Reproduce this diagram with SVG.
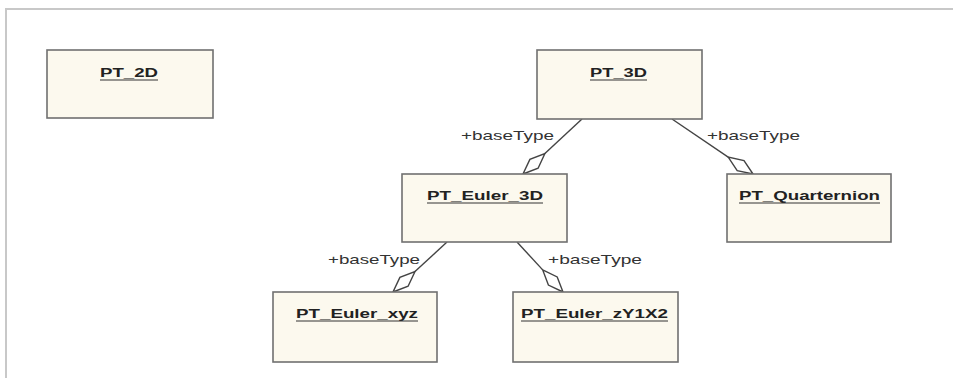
<svg xmlns="http://www.w3.org/2000/svg" width="953" height="378" viewBox="0 0 953 378">
<style>
.box{fill:#fcf9ee;stroke:#707070;stroke-width:1.6}
.title{font-family:"Liberation Sans",Arial,sans-serif;font-weight:bold;font-size:12px;fill:#222;text-anchor:middle}
.ul{stroke:#333;stroke-width:1}
.edge{stroke:#444;stroke-width:1.4;fill:none}
.dia{fill:#ffffff;stroke:#444;stroke-width:1.4}
.lbl{font-family:"Liberation Sans",Arial,sans-serif;font-size:13px;fill:#333}
.frame{stroke:#c8c8c8;stroke-width:2;fill:none}
</style>
<rect x="0" y="0" width="953" height="378" fill="#ffffff"/>
<path class="frame" d="M6,378 V9 H953"/>
<g id="connectors">
  <line class="edge" x1="582" y1="119" x2="544.9" y2="153.6"/>
  <polygon class="dia" points="523,174 538.1,168.2 544.9,153.6 529.9,159.4"/>
  <text class="lbl" x="461" y="140" textLength="93" lengthAdjust="spacingAndGlyphs">+baseType</text>
  <line class="edge" x1="672" y1="119" x2="728.2" y2="157.1"/>
  <polygon class="dia" points="753,174 744.0,160.6 728.2,157.1 737.2,170.6"/>
  <text class="lbl" x="707" y="140" textLength="93" lengthAdjust="spacingAndGlyphs">+baseType</text>
  <line class="edge" x1="447" y1="242" x2="415" y2="271.6"/>
  <polygon class="dia" points="393,292 408.1,286.2 415,271.6 399.9,277.4"/>
  <text class="lbl" x="328" y="264" textLength="92" lengthAdjust="spacingAndGlyphs">+baseType</text>
  <line class="edge" x1="517" y1="242" x2="542.7" y2="269.9"/>
  <polygon class="dia" points="563,292 557.2,276.9 542.7,269.9 548.4,285.1"/>
  <text class="lbl" x="548" y="264" textLength="94" lengthAdjust="spacingAndGlyphs">+baseType</text>
</g>
<g id="PT_2D">
  <rect class="box" x="47" y="50" width="166" height="68"/>
  <text class="title" x="129" y="77" textLength="58" lengthAdjust="spacingAndGlyphs">PT_2D</text>
  <line class="ul" x1="100" y1="80" x2="158" y2="80"/>
</g>
<g id="PT_3D">
  <rect class="box" x="537" y="50" width="165" height="69"/>
  <text class="title" x="618.5" y="77" textLength="57" lengthAdjust="spacingAndGlyphs">PT_3D</text>
  <line class="ul" x1="590" y1="80" x2="647" y2="80"/>
</g>
<g id="PT_Euler_3D">
  <rect class="box" x="402" y="174" width="165" height="68"/>
  <text class="title" x="485" y="200" textLength="116" lengthAdjust="spacingAndGlyphs">PT_Euler_3D</text>
  <line class="ul" x1="427" y1="203" x2="543" y2="203"/>
</g>
<g id="PT_Quarternion">
  <rect class="box" x="727" y="174" width="164" height="68"/>
  <text class="title" x="809.5" y="200" textLength="141" lengthAdjust="spacingAndGlyphs">PT_Quarternion</text>
  <line class="ul" x1="739" y1="203" x2="880" y2="203"/>
</g>
<g id="PT_Euler_xyz">
  <rect class="box" x="273" y="292" width="164" height="70"/>
  <text class="title" x="357" y="318" textLength="122" lengthAdjust="spacingAndGlyphs">PT_Euler_xyz</text>
  <line class="ul" x1="296" y1="321" x2="418" y2="321"/>
</g>
<g id="PT_Euler_zY1X2">
  <rect class="box" x="513" y="292" width="165" height="70"/>
  <text class="title" x="594.5" y="318" textLength="147" lengthAdjust="spacingAndGlyphs">PT_Euler_zY1X2</text>
  <line class="ul" x1="521" y1="321" x2="668" y2="321"/>
</g>
</svg>
